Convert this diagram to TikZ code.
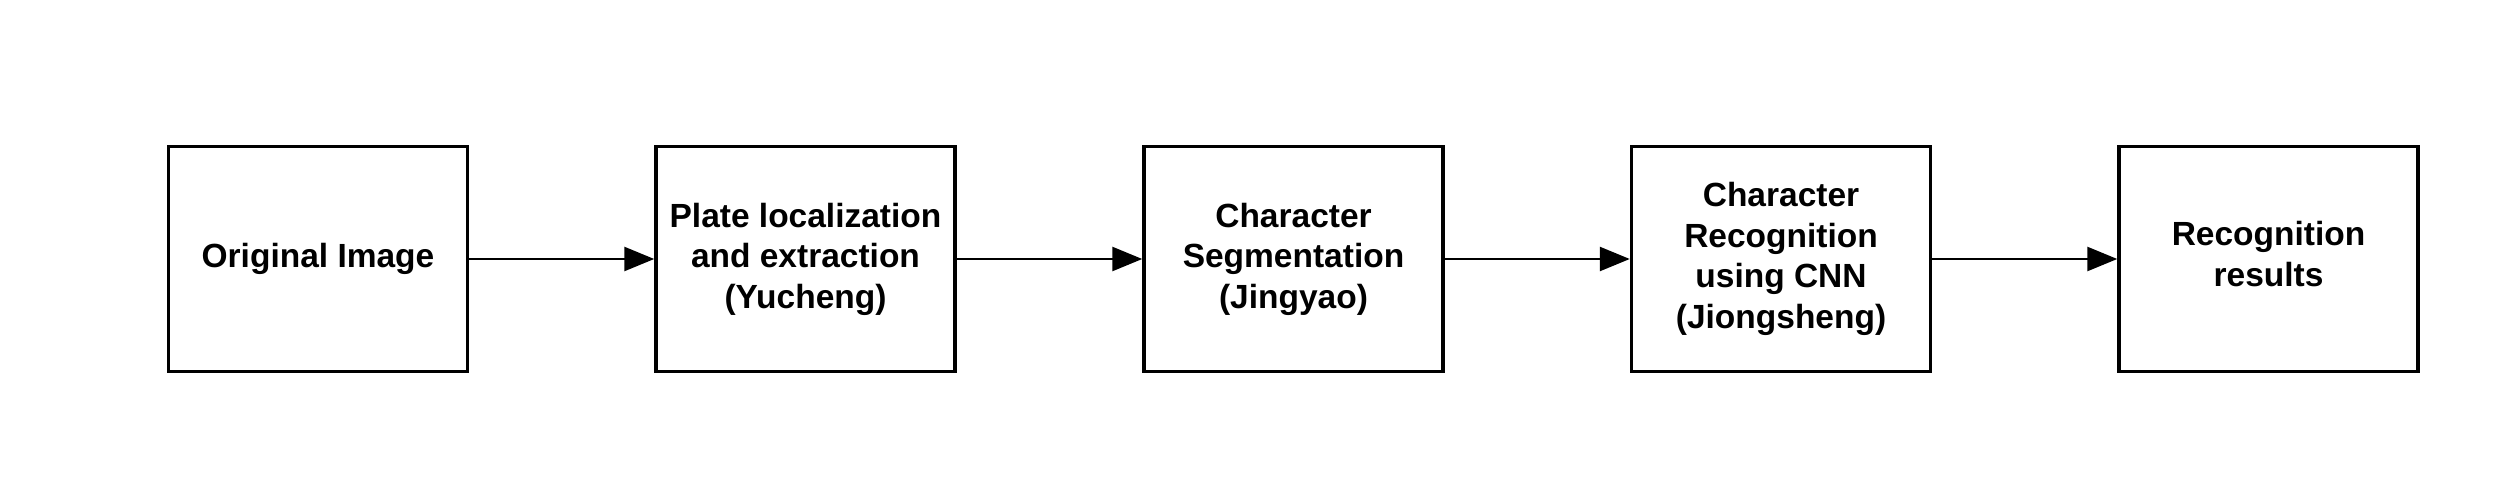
\documentclass[tikz,border=0pt]{standalone}
\usepackage{fontspec}
\setmainfont{Liberation Sans}
\usetikzlibrary{arrows.meta}
\begin{document}
\begin{tikzpicture}[x=1pt,y=1pt,
  stepbox/.style={draw=black,line width=3.5pt,minimum width=299pt,minimum height=225pt,inner sep=0pt,
    align=center,font=\fontsize{33.5}{40.5}\selectfont\bfseries},
  flow/.style={line width=2.6pt,-{Triangle[length=30pt,width=24pt]}}]
\useasboundingbox (0,0) rectangle (2507,480);
\node[stepbox] (a) at (318,221) {Original Image};
\node[stepbox] (b) at (805.5,221) {Plate localization\\and extraction\\(Yucheng)};
\node[stepbox] (c) at (1293.5,221) {Character\\Segmentation\\(Jingyao)};
\node[stepbox] (d) at (1781,221) {Character\\Recognition\\using CNN\\(Jiongsheng)};
\node[stepbox] (e) at (2268.5,221) {Recognition\\results\rule[-10pt]{0pt}{0pt}};
\draw[flow] (a) -- (b);
\draw[flow] (b) -- (c);
\draw[flow] (c) -- (d);
\draw[flow] (d) -- (e);
\end{tikzpicture}
\end{document}
